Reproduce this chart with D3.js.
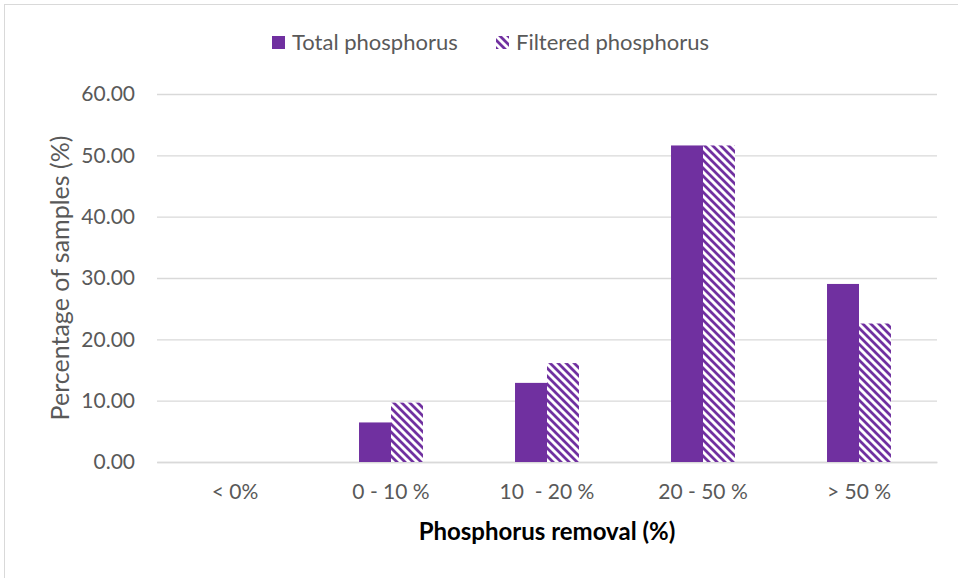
<!DOCTYPE html>
<html>
<head>
<meta charset="utf-8">
<script src="https://cdn.jsdelivr.net/npm/d3@7"></script>
<style>
  body { margin: 0; background: #fff; }
  svg { display: block; font-family: Lato, "Open Sans", sans-serif; }
</style>
</head>
<body>
<script>
// data (share of 31 samples)
const categories = ['< 0%', '0 - 10 %', '10  - 20 %', '20 - 50 %', '> 50 %'];
const seriesNames = ['Total phosphorus', 'Filtered phosphorus'];
const totalP = [0, 6.45, 12.90, 51.61, 29.03];
const filteredP = [0, 9.68, 16.13, 51.61, 22.58];
const yTicks = [0, 10, 20, 30, 40, 50, 60];

const width = 958, height = 578;
const margin = {top: 94, right: 21, bottom: 116, left: 157};
const purple = '#7030a0';

const svg = d3.select('body').append('svg')
  .attr('width', width)
  .attr('height', height);

// hatch for filtered series (wide downward diagonal)
const defs = svg.append('defs');
const pat = defs.append('pattern')
  .attr('id', 'hatch')
  .attr('patternUnits', 'userSpaceOnUse')
  .attr('width', 8).attr('height', 8);
pat.append('rect').attr('width', 8).attr('height', 8).attr('fill', '#fff');
pat.append('path')
  .attr('d', 'M0,0 L8,8 M-4,4 L4,12 M4,-4 L12,4')
  .attr('stroke', purple)
  .attr('stroke-width', 2.8);

// chart frame
svg.append('rect')
  .attr('x', 4.5).attr('y', 4.5)
  .attr('width', width + 10).attr('height', height + 10)
  .attr('fill', 'none').attr('stroke', '#d9d9d9');

const x = d3.scaleBand()
  .domain(categories)
  .range([margin.left, width - margin.right]);

const inner = x.bandwidth() * 0.41;
const x1 = d3.scaleBand()
  .domain(seriesNames)
  .range([0, inner]);

const y = d3.scaleLinear()
  .domain([0, 60])
  .range([height - margin.bottom, margin.top]);

// gridlines + y labels
const yAxis = svg.append('g')
  .attr('transform', 'translate(' + margin.left + ',0)')
  .call(d3.axisLeft(y).tickValues(yTicks).tickFormat(d3.format('.2f'))
    .tickSize(-(width - margin.left - margin.right)).tickPadding(22));
yAxis.select('.domain').remove();
yAxis.selectAll('line').attr('stroke', '#d9d9d9').attr('stroke-width', 1.3);
yAxis.selectAll('text')
  .attr('fill', '#595959')
  .style('font-size', '21px')
  .style('font-family', 'Lato, sans-serif');

// x labels
const xAxis = svg.append('g')
  .attr('transform', 'translate(0,' + y(0) + ')')
  .call(d3.axisBottom(x).tickSize(0).tickPadding(22));
xAxis.select('.domain').attr('stroke', '#d9d9d9').attr('stroke-width', 1.3);
xAxis.selectAll('text')
  .attr('fill', '#595959')
  .style('font-size', '21px')
  .style('font-family', 'Lato, sans-serif')
  .style('white-space', 'pre');

// bars
const rows = categories.map((c, i) => ({cat: c, vals: [totalP[i], filteredP[i]]}));
const grp = svg.append('g').selectAll('g')
  .data(rows).enter().append('g')
  .attr('transform', d => 'translate(' + (x(d.cat) + (x.bandwidth() - inner) / 2) + ',0)');

grp.selectAll('rect')
  .data(d => d.vals.map((v, k) => ({name: seriesNames[k], v: v})))
  .enter().append('rect')
  .attr('x', d => x1(d.name))
  .attr('width', x1.bandwidth())
  .attr('y', d => y(d.v))
  .attr('height', d => y(0) - y(d.v))
  .attr('fill', (d, k) => k === 0 ? purple : 'url(#hatch)');

// axis titles
svg.append('text')
  .attr('transform', 'translate(69,' + y(30) + ') rotate(-90)')
  .attr('text-anchor', 'middle')
  .attr('fill', '#595959')
  .style('font-size', '25px')
  .text('Percentage of samples (%)');

svg.append('text')
  .attr('x', (margin.left + width - margin.right) / 2)
  .attr('y', 540)
  .attr('text-anchor', 'middle')
  .attr('fill', '#000')
  .style('font-size', '24px')
  .style('font-weight', 'bold')
  .text('Phosphorus removal (%)');

// legend
const legend = svg.append('g');
const items = [
  {name: seriesNames[0], fill: purple, x: 272},
  {name: seriesNames[1], fill: 'url(#hatch)', x: 496}
];
items.forEach(it => {
  legend.append('rect')
    .attr('x', it.x).attr('y', 36)
    .attr('width', 13).attr('height', 13)
    .attr('fill', it.fill);
  legend.append('text')
    .attr('x', it.x + 20).attr('y', 50)
    .attr('fill', '#595959')
    .style('font-size', '22px')
    .text(it.name);
});
</script>
</body>
</html>
